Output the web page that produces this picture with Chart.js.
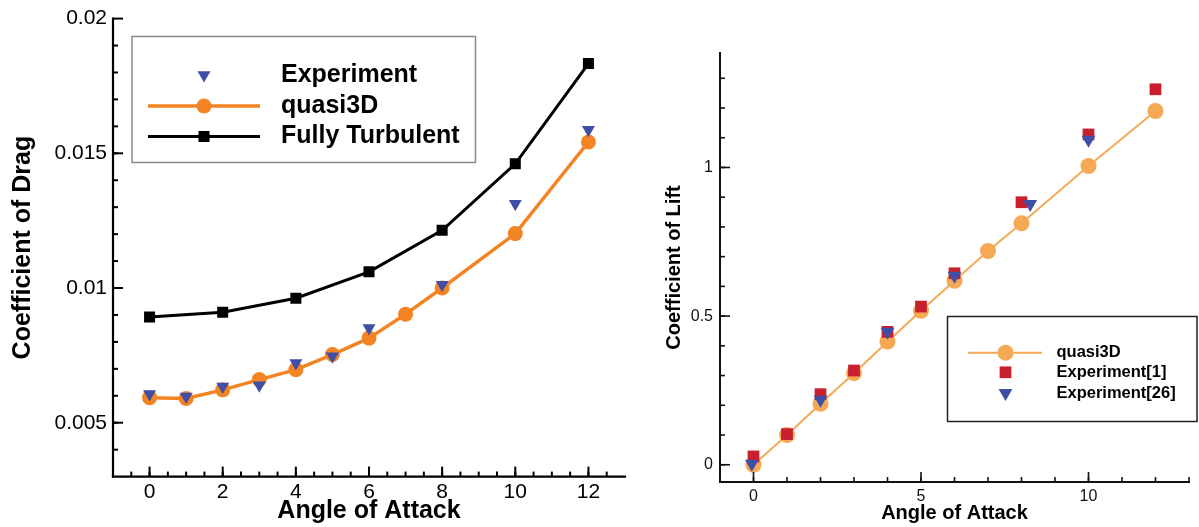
<!DOCTYPE html>
<html>
<head>
<meta charset="utf-8">
<script src="https://cdn.jsdelivr.net/npm/chart.js@4.4.0/dist/chart.umd.min.js"></script>
<style>
  html, body { margin: 0; padding: 0; background: #fff; }
  #wrap { position: relative; width: 1199px; height: 527px; overflow: hidden; }
  #dragBox { position: absolute; left: 0; top: 0; width: 640px; height: 527px; }
  #liftBox { position: absolute; left: 640px; top: 0; width: 559px; height: 527px; }
</style>
</head>
<body>
<div id="wrap">
  <div id="dragBox"><canvas id="drag"></canvas></div>
  <div id="liftBox"><canvas id="lift"></canvas></div>
</div>
<script>
// ---- Drag coefficient vs angle of attack ----
const dragQuasiAngles = [0, 1, 2, 3, 4, 5, 6, 7, 8, 10, 12];
const dragQuasi3D     = [0.00593, 0.0059, 0.00622, 0.0066, 0.00697, 0.00753, 0.00814, 0.00903, 0.0100, 0.01202, 0.01542];
const dragExpAngles   = [0, 1, 2, 3, 4, 5, 6, 8, 10, 12];
const dragExperiment  = [0.00607, 0.00597, 0.00634, 0.00639, 0.00722, 0.00747, 0.00852, 0.01012, 0.01313, 0.01587];
const dragTurbAngles  = [0, 2, 4, 6, 8, 10, 12];
const dragTurbulent   = [0.00892, 0.0091, 0.00962, 0.0106, 0.01214, 0.01461, 0.01833];
const dragXTicks      = [0, 2, 4, 6, 8, 10, 12];
const dragXLabels     = ['0', '2', '4', '6', '8', '10', '12'];
const dragYTicks      = [0.005, 0.01, 0.015, 0.02];
const dragYLabels     = ['0.005', '0.01', '0.015', '0.02'];

// ---- Lift coefficient vs angle of attack ----
const liftQuasiAngles = [0, 1, 2, 3, 4, 5, 6, 7, 8, 10, 12];
const liftQuasi3D     = [0.0, 0.10, 0.205, 0.308, 0.414, 0.518, 0.619, 0.719, 0.812, 1.005, 1.19];
const liftExp1Angles  = [0, 1, 2, 3, 4, 5, 6, 8, 10, 12];
const liftExp1        = [0.028, 0.103, 0.2375, 0.317, 0.447, 0.532, 0.644, 0.883, 1.111, 1.263];
const liftExp26Angles = [-0.05, 2, 4, 6, 8.26, 10];
const liftExp26       = [0.003, 0.219, 0.447, 0.636, 0.877, 1.093];
const liftXTicks      = [0, 5, 10];
const liftXLabels     = ['0', '5', '10'];
const liftYTicks      = [0, 0.5, 1];
const liftYLabels     = ['0', '0.5', '1'];

const pairs = (xs, ys) => xs.map((x, i) => ({ x: x, y: ys[i] }));
const steps = (from, to, step) => {
  const out = [];
  for (let k = 0; from + k * step <= to + step * 1e-6; k++) out.push(+(from + k * step).toFixed(6));
  return out;
};

// Axis lines plus inward-pointing major/minor tick marks
const framedAxes = {
  id: 'framedAxes',
  afterDatasetsDraw(chart, args, o) {
    const { ctx, chartArea: a } = chart;
    const xs = chart.scales.x, ys = chart.scales.y;
    ctx.save();
    ctx.strokeStyle = o.color;
    ctx.lineWidth = o.tickWidth;
    const seg = (x1, y1, x2, y2) => { ctx.beginPath(); ctx.moveTo(x1, y1); ctx.lineTo(x2, y2); ctx.stroke(); };
    o.xMinor.forEach(v => { const p = xs.getPixelForValue(v); seg(p, a.bottom, p, a.bottom - o.minorLen); });
    o.xMajor.forEach(v => { const p = xs.getPixelForValue(v); seg(p, a.bottom, p, a.bottom - o.majorLen); });
    o.yMinor.forEach(v => { const p = ys.getPixelForValue(v); seg(a.left, p, a.left + o.minorLen, p); });
    o.yMajor.forEach(v => { const p = ys.getPixelForValue(v); seg(a.left, p, a.left + o.majorLen, p); });
    ctx.lineWidth = o.axisWidth;
    ctx.lineCap = 'square';
    seg(a.left, a.top, a.left, a.bottom);
    seg(a.left, a.bottom, a.right, a.bottom);
    ctx.restore();
  }
};

function marker(ctx, style, r, rot, fill, x, y) {
  ctx.fillStyle = fill;
  ctx.beginPath();
  if (style === 'circle') {
    ctx.arc(x, y, r, 0, Math.PI * 2);
  } else if (style === 'rect') {
    const s = r * Math.SQRT1_2;
    ctx.rect(x - s, y - s, 2 * s, 2 * s);
  } else if (style === 'triangle') {
    let rad = (rot || 0) * Math.PI / 180;
    for (let k = 0; k < 3; k++) {
      const px = x + Math.sin(rad) * r, py = y - Math.cos(rad) * r;
      if (k === 0) ctx.moveTo(px, py); else ctx.lineTo(px, py);
      rad += 2 * Math.PI / 3;
    }
    ctx.closePath();
  }
  ctx.fill();
}

// Framed legend drawn inside the plot
const boxLegend = {
  id: 'boxLegend',
  afterDraw(chart, args, o) {
    const ctx = chart.ctx;
    ctx.save();
    ctx.fillStyle = '#fff';
    ctx.fillRect(o.box[0], o.box[1], o.box[2], o.box[3]);
    ctx.strokeStyle = o.borderColor;
    ctx.lineWidth = o.borderWidth;
    ctx.strokeRect(o.box[0], o.box[1], o.box[2], o.box[3]);
    o.order.forEach((idx, i) => {
      const ds = chart.data.datasets[idx];
      const yy = o.rows[i];
      if (ds.showLine !== false) {
        ctx.strokeStyle = ds.borderColor;
        ctx.lineWidth = ds.borderWidth;
        ctx.beginPath(); ctx.moveTo(o.lineX[0], yy); ctx.lineTo(o.lineX[1], yy); ctx.stroke();
      }
      marker(ctx, ds.pointStyle, ds.pointRadius, ds.pointRotation, ds.pointBackgroundColor, o.markX, yy);
      ctx.fillStyle = '#000';
      ctx.font = o.font;
      ctx.textBaseline = 'middle';
      ctx.textAlign = 'left';
      ctx.fillText(ds.label, o.textX, yy + (o.textDy || 0));
    });
    ctx.restore();
  }
};

const FAMILY = '"Liberation Sans", Arial, Helvetica, sans-serif';

function fixedTicks(values) {
  return function (scale) { scale.ticks = values.map(v => ({ value: v })); };
}

// ---------- Drag chart ----------
new Chart(document.getElementById('drag'), {
  type: 'line',
  data: {
    datasets: [
      {
        label: 'Experiment',
        data: pairs(dragExpAngles, dragExperiment),
        showLine: false,
        pointStyle: 'triangle', pointRotation: 180, pointRadius: 7.5,
        pointBackgroundColor: '#3f4fa6', pointBorderWidth: 0,
        borderColor: '#3f4fa6', order: 1
      },
      {
        label: 'quasi3D',
        data: pairs(dragQuasiAngles, dragQuasi3D),
        borderColor: '#f28424', borderWidth: 3.5,
        pointStyle: 'circle', pointRadius: 7.5,
        pointBackgroundColor: '#f28424', pointBorderWidth: 0,
        tension: 0, order: 2
      },
      {
        label: 'Fully Turbulent',
        data: pairs(dragTurbAngles, dragTurbulent),
        borderColor: '#000', borderWidth: 3,
        pointStyle: 'rect', pointRadius: 7.8,
        pointBackgroundColor: '#000', pointBorderWidth: 0,
        tension: 0, order: 3
      }
    ]
  },
  options: {
    responsive: true, maintainAspectRatio: false, animation: false, devicePixelRatio: 1,
    layout: { padding: { left: 0, right: 15, top: 12, bottom: 0 } },
    plugins: {
      legend: { display: false }, tooltip: { enabled: false },
      framedAxes: {
        color: '#000', tickWidth: 2, axisWidth: 2.2, majorLen: 10, minorLen: 5,
        xMajor: dragXTicks, xMinor: steps(-0.5, 12.5, 0.5),
        yMajor: dragYTicks, yMinor: steps(0.004, 0.019, 0.001)
      },
      boxLegend: {
        box: [132, 36.5, 343.5, 126], borderColor: '#8a8a8a', borderWidth: 1.5,
        order: [0, 1, 2], rows: [75, 106, 136.5], lineX: [148, 260], markX: 204, textX: 281,
        font: 'bold 25px ' + FAMILY, textDy: 0
      }
    },
    scales: {
      x: {
        type: 'linear', min: -1, max: 13,
        afterFit: s => { s.height = 50.4; },
        afterBuildTicks: fixedTicks(dragXTicks),
        grid: { display: false, drawTicks: false }, border: { display: false },
        ticks: {
          padding: 3, color: '#000', font: { family: FAMILY, size: 21 },
          callback: v => dragXLabels[dragXTicks.indexOf(v)]
        },
        title: {
          display: true, text: 'Angle of Attack', color: '#000',
          font: { family: FAMILY, size: 25, weight: 'bold', lineHeight: 1.2 },
          padding: { top: 0, bottom: 1 }
        }
      },
      y: {
        type: 'linear', min: 0.003, max: 0.02,
        afterFit: s => { s.width = 113; },
        afterBuildTicks: fixedTicks(dragYTicks),
        grid: { display: false, drawTicks: false }, border: { display: false },
        ticks: {
          padding: 6, color: '#000', font: { family: FAMILY, size: 21 },
          callback: v => dragYLabels[dragYTicks.indexOf(v)]
        },
        title: {
          display: true, text: 'Coefficient of Drag', color: '#000',
          font: { family: FAMILY, size: 25, weight: 'bold', lineHeight: 1.2 },
          padding: { top: 8, bottom: 0 }
        }
      }
    }
  },
  plugins: [framedAxes, boxLegend]
});

// ---------- Lift chart ----------
new Chart(document.getElementById('lift'), {
  type: 'line',
  data: {
    datasets: [
      {
        label: 'quasi3D',
        data: pairs(liftQuasiAngles, liftQuasi3D),
        borderColor: '#f5a955', borderWidth: 2,
        pointStyle: 'circle', pointRadius: 8,
        pointBackgroundColor: '#f5a955', pointBorderWidth: 0,
        tension: 0, order: 3
      },
      {
        label: 'Experiment[1]',
        data: pairs(liftExp1Angles, liftExp1),
        showLine: false,
        pointStyle: 'rect', pointRadius: 8.3,
        pointBackgroundColor: '#c8202c', pointBorderWidth: 0,
        borderColor: '#c8202c', order: 2
      },
      {
        label: 'Experiment[26]',
        data: pairs(liftExp26Angles, liftExp26),
        showLine: false,
        pointStyle: 'triangle', pointRotation: 180, pointRadius: 8,
        pointBackgroundColor: '#3f4fa6', pointBorderWidth: 0,
        borderColor: '#3f4fa6', order: 1
      }
    ]
  },
  options: {
    responsive: true, maintainAspectRatio: false, animation: false, devicePixelRatio: 1,
    layout: { padding: { left: 0, right: 10, top: 53, bottom: 0 } },
    plugins: {
      legend: { display: false }, tooltip: { enabled: false },
      framedAxes: {
        color: '#111', tickWidth: 1.6, axisWidth: 2, majorLen: 10, minorLen: 5,
        xMajor: liftXTicks, xMinor: steps(-1, 13, 1),
        yMajor: liftYTicks, yMinor: steps(-0.0, 1.3, 0.1)
      },
      boxLegend: {
        box: [307.5, 316.5, 249.5, 105], borderColor: '#222', borderWidth: 1.5,
        order: [0, 1, 2], rows: [352.7, 372.3, 393], lineX: [328, 402], markX: 365.5, textX: 416.5,
        font: 'bold 16.5px ' + FAMILY, textDy: 0
      }
    },
    scales: {
      x: {
        type: 'linear', min: -1, max: 13,
        afterFit: s => { s.height = 45; },
        afterBuildTicks: fixedTicks(liftXTicks),
        grid: { display: false, drawTicks: false }, border: { display: false },
        ticks: {
          padding: 5, color: '#111', font: { family: FAMILY, size: 16 },
          callback: v => liftXLabels[liftXTicks.indexOf(v)]
        },
        title: {
          display: true, text: 'Angle of Attack', color: '#000',
          font: { family: FAMILY, size: 20, weight: 'bold', lineHeight: 1.2 },
          padding: { top: 0, bottom: 1.7 }
        }
      },
      y: {
        type: 'linear', min: -0.058, max: 1.385,
        afterFit: s => { s.width = 80; },
        afterBuildTicks: fixedTicks(liftYTicks),
        grid: { display: false, drawTicks: false }, border: { display: false },
        ticks: {
          padding: 7, color: '#111', font: { family: FAMILY, size: 16 },
          callback: v => liftYLabels[liftYTicks.indexOf(v)]
        },
        title: {
          display: true, text: 'Coefficient of Lift', color: '#000',
          font: { family: FAMILY, size: 20, weight: 'bold', lineHeight: 1.2 },
          padding: { top: 22.6, bottom: 0 }
        }
      }
    }
  },
  plugins: [framedAxes, boxLegend]
});
</script>
</body>
</html>
